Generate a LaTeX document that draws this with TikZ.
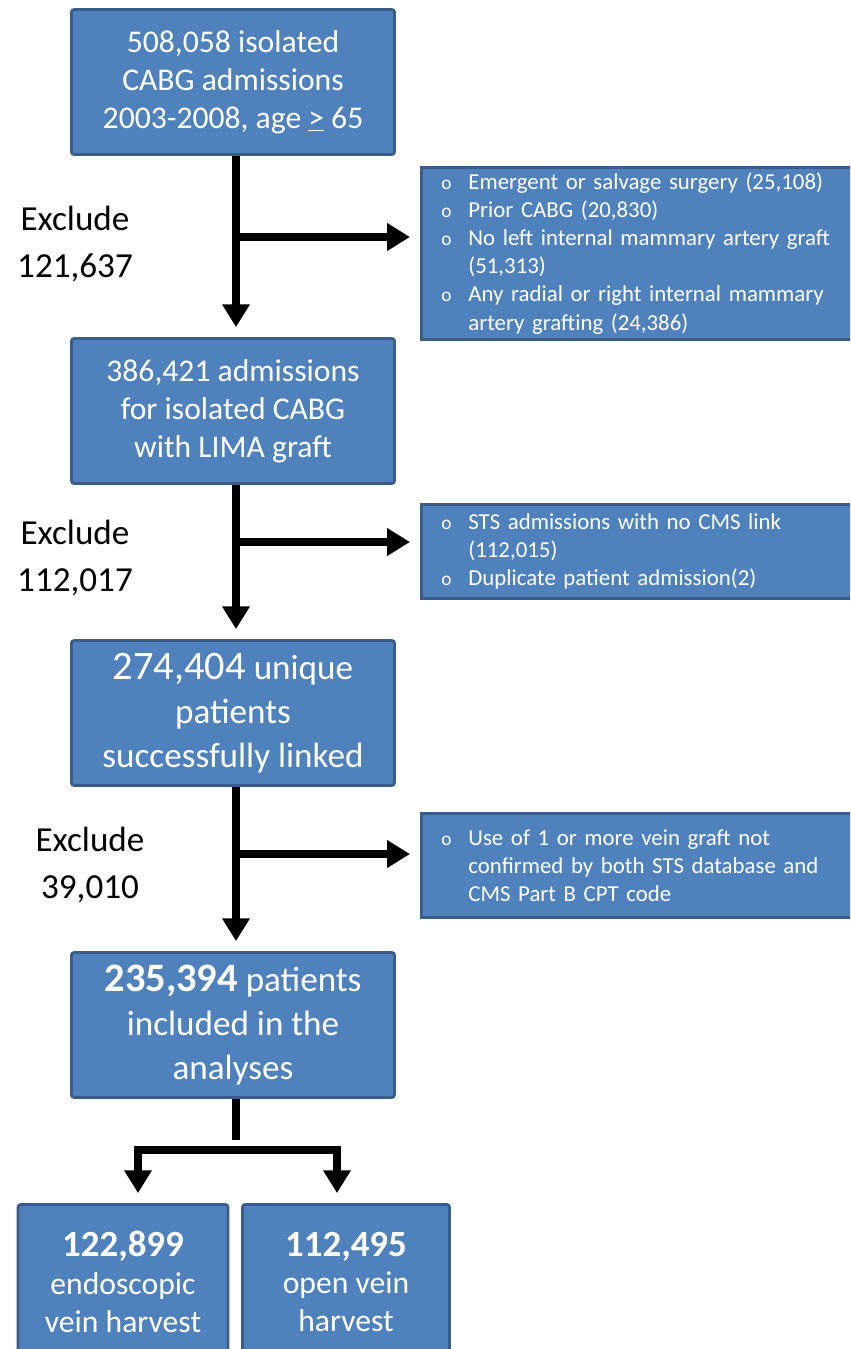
\documentclass[tikz,border=0pt]{standalone}
\usepackage{fontspec}
\setmainfont{Carlito}
\usepackage{xcolor}
\usetikzlibrary{arrows.meta}

\definecolor{boxblue}{HTML}{4F81BD}
\definecolor{boxedge}{HTML}{385D8A}

\newcommand{\bul}{\makebox[0.54cm][l]{\fontsize{11}{11}\selectfont o}}
\newcommand{\cont}{\hspace*{0.54cm}}

\begin{document}
\begin{tikzpicture}[x=0.02cm,y=-0.02cm,>={Triangle[width=15pt,length=13pt]},shorten >=0.2cm,line width=4.2pt,
    main node/.style={rectangle,rounded corners=1.5pt,draw=boxedge,line width=1.6pt,fill=boxblue,text=white,align=center,inner sep=0pt,minimum width=6.46cm,minimum height=2.9cm,font=\fontsize{18}{21.5}\selectfont},
    excl node/.style={rectangle,draw=boxedge,line width=1.6pt,fill=boxblue,text=white,align=left,anchor=north west,inner xsep=0.4cm,inner ysep=0pt,text width=7.9cm,font=\fontsize{13}{16}\selectfont},
    label node/.style={align=center,font=\fontsize{20}{27}\selectfont}]
    \clip (0,0) rectangle (850,1349);
    \useasboundingbox (0,0) rectangle (850,1349);

    \node[main node] (1) at (233,82) {508,058 isolated\\CABG admissions\\2003-2008, age \underline{>} 65};
    \node[main node] (2) at (233,411) {386,421 admissions\\for isolated CABG\\with LIMA graft};
    \node[main node,font=\fontsize{20}{25}\selectfont] (3) at (233,713) {{\fontsize{23}{25}\selectfont 274,404} unique\\patients\\successfully linked};
    \node[main node,font=\fontsize{20}{25}\selectfont] (4) at (233,1025) {{\fontsize{23}{25}\selectfont\bfseries 235,394} patients\\included in the\\analyses};
    \node[main node,minimum width=4.2cm,minimum height=3.1cm,font=\fontsize{18}{21.5}\selectfont] (5) at (123,1282) {{\fontsize{21}{22}\selectfont\bfseries 122,899}\\endoscopic\\vein harvest};
    \node[main node,minimum width=4.14cm,minimum height=3.1cm,font=\fontsize{18}{21.5}\selectfont] (6) at (346,1282) {{\fontsize{21}{22}\selectfont\bfseries 112,495}\\open vein\\harvest};

    \node[excl node,minimum height=3.44cm] (e1) at (420,166) {\bul Emergent or salvage surgery (25,108)\\\bul Prior CABG (20,830)\\\bul No left internal mammary artery graft\\\cont(51,313)\\\bul Any radial or right internal mammary\\\cont artery grafting (24,386)};
    \node[excl node,minimum height=1.88cm] (e2) at (420,503) {\bul STS admissions with no CMS link\\\cont(112,015)\\\bul Duplicate patient admission(2)};
    \node[excl node,minimum height=2.08cm] (e3) at (420,812) {\bul Use of 1 or more vein graft not\\\cont confirmed by both STS database and\\\cont CMS Part B CPT code};

    \node[label node] (x1) at (75,244) {Exclude\\121,637};
    \node[label node] (x2) at (75,558) {Exclude\\112,017};
    \node[label node] (x3) at (90,865) {Exclude\\39,010};

    \coordinate (b1) at (236,237);
    \coordinate (b2) at (236,542);
    \coordinate (b3) at (236,854);
    \coordinate (s0) at (236,1150);

    \draw[->] (1.south -| b1) -- (2.north -| b1);
    \draw[->] (2.south -| b2) -- (3.north -| b2);
    \draw[->] (3.south -| b3) -- (4.north -| b3);
    \draw[->] (b1) -- (b1 -| e1.west);
    \draw[->] (b2) -- (b2 -| e2.west);
    \draw[->] (b3) -- (b3 -| e3.west);
    \draw (4.south -| s0) -- (s0);
    \draw[->] (s0) -| (5.north -| 138,0);
    \draw[->] (s0) -| (6.north -| 337,0);
\end{tikzpicture}
\end{document}
